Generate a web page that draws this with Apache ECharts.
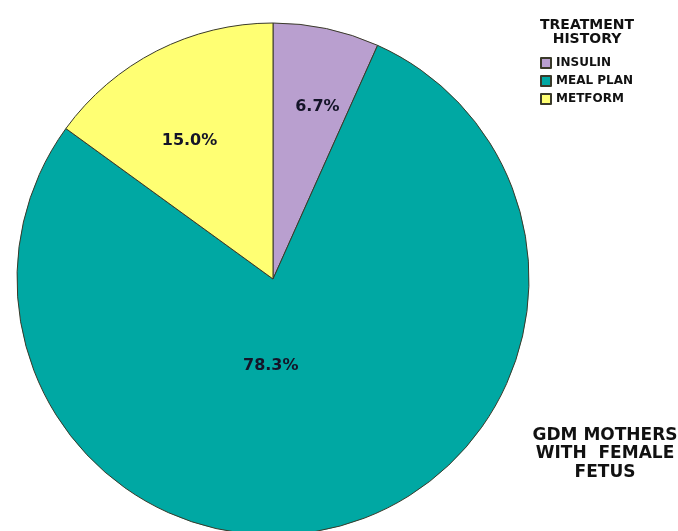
<!DOCTYPE html>
<html>
<head>
<meta charset="utf-8">
<script src="https://cdn.jsdelivr.net/npm/echarts@6/dist/echarts.min.js"></script>
<style>
  html, body { margin: 0; padding: 0; background: #fff; }
  #chart { width: 678px; height: 531px; }
</style>
</head>
<body>
<div id="chart"></div>
<script>
// Treatment history of GDM mothers with a female fetus (percent of group)
const categories = ['INSULIN', 'MEAL PLAN', 'METFORM'];
const percents = [6.7, 78.3, 15.0];

// slice colours and label nudges, in the same order as the categories
const sliceColors = ['#B99FCF', '#00A8A3', '#FFFF73'];
const labelOffsets = [[17, -44], [-36, -40], [-24, -21]];

const FONT = 'DejaVu Sans';

const chart = echarts.init(document.getElementById('chart'), null, { renderer: 'canvas' });

chart.setOption({
  backgroundColor: '#ffffff',
  animation: false,
  title: [
    {
      text: 'TREATMENT\nHISTORY',
      left: 587,
      top: 18,
      padding: 0,
      textAlign: 'center',
      textStyle: { fontFamily: FONT, fontWeight: 'bold', fontSize: 14, lineHeight: 14, color: '#111' }
    },
    {
      text: 'GDM MOTHERS\nWITH  FEMALE\nFETUS',
      left: 605,
      top: 426,
      padding: 0,
      textAlign: 'center',
      textStyle: { fontFamily: FONT, fontWeight: 'bold', fontSize: 17, lineHeight: 18.5, color: '#111' }
    }
  ],
  legend: {
    orient: 'vertical',
    left: 540,
    top: 57,
    padding: 0,
    itemWidth: 10,
    itemHeight: 10,
    itemGap: 6,
    icon: 'rect',
    data: categories,
    textStyle: { fontFamily: FONT, fontWeight: 'bold', fontSize: 12, color: '#111' }
  },
  series: [{
    type: 'pie',
    center: [273, 279],
    radius: 256,
    startAngle: 90,
    clockwise: true,
    avoidLabelOverlap: false,
    itemStyle: { borderColor: '#3a3a2a', borderWidth: 1 },
    emphasis: { disabled: true },
    labelLine: { show: false },
    data: categories.map((name, i) => ({
      name: name,
      value: percents[i],
      itemStyle: { color: sliceColors[i] },
      label: { offset: labelOffsets[i] }
    })),
    label: {
      show: true,
      position: 'inside',
      formatter: p => p.value.toFixed(1) + '%',
      fontFamily: FONT,
      fontWeight: 'bold',
      fontSize: 16,
      color: '#141428'
    }
  }]
});
</script>
</body>
</html>
